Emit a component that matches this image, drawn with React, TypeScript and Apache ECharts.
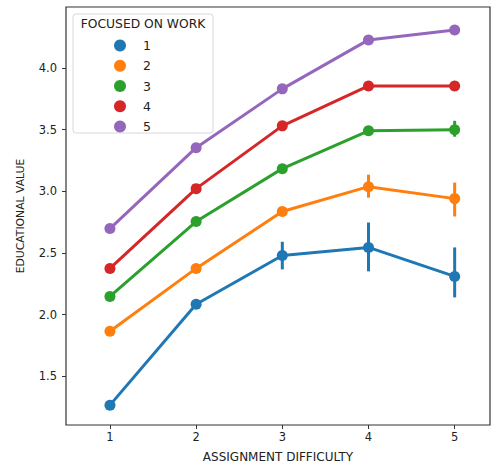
import React, { useEffect, useRef } from "react";
import * as echarts from "echarts";

const difficulty = [1, 2, 3, 4, 5];
const groups = ["1", "2", "3", "4", "5"];
const colors = ["#1f77b4", "#ff7f0e", "#2ca02c", "#d62728", "#9467bd"];

const means1 = [1.265, 2.083, 2.479, 2.544, 2.309];
const means2 = [1.864, 2.374, 2.835, 3.037, 2.94];
const means3 = [2.147, 2.754, 3.183, 3.49, 3.498];
const means4 = [2.374, 3.021, 3.53, 3.854, 3.854];
const means5 = [2.697, 3.353, 3.83, 4.227, 4.307];

const low1 = [1.245, 2.05, 2.366, 2.35, 2.139];
const high1 = [1.285, 2.115, 2.59, 2.746, 2.544];
const low2 = [1.85, 2.355, 2.81, 2.948, 2.795];
const high2 = [1.878, 2.393, 2.86, 3.134, 3.07];
const low3 = [2.133, 2.735, 3.165, 3.465, 3.442];
const high3 = [2.161, 2.773, 3.201, 3.515, 3.571];
const low4 = [2.36, 3.005, 3.512, 3.835, 3.83];
const high4 = [2.388, 3.037, 3.548, 3.873, 3.878];
const low5 = [2.683, 3.337, 3.812, 4.21, 4.29];
const high5 = [2.711, 3.369, 3.848, 4.244, 4.324];

const yTicks = [1.5, 2.0, 2.5, 3.0, 3.5, 4.0];

const means = [means1, means2, means3, means4, means5];
const lows = [low1, low2, low3, low4, low5];
const highs = [high1, high2, high3, high4, high5];

const FONT = "DejaVu Sans";

export default function App() {
  const ref = useRef<HTMLDivElement>(null);
  useEffect(() => {
    if (!ref.current) return;
    const chart = echarts.init(ref.current, null, { renderer: "svg" });
    const series: any[] = [];
    groups.forEach((g, i) => {
      series.push({
        type: "line",
        name: g,
        data: difficulty.map((d, j) => [d, means[i][j]]),
        symbol: "circle",
        symbolSize: 11,
        lineStyle: { width: 3, color: colors[i] },
        itemStyle: { color: colors[i] },
        z: 2 + i,
      });
      series.push({
        type: "custom",
        name: "err" + g,
        data: difficulty.map((d, j) => [d, lows[i][j], highs[i][j]]),
        renderItem: (params: any, api: any) => {
          const x = api.value(0);
          const a = api.coord([x, api.value(1)]);
          const b = api.coord([x, api.value(2)]);
          return {
            type: "line",
            shape: { x1: a[0], y1: a[1], x2: b[0], y2: b[1] },
            style: { stroke: colors[i], lineWidth: 3 },
          };
        },
        z: 2 + i,
      });
    });
    chart.setOption({
      animation: false,
      backgroundColor: "#ffffff",
      textStyle: { fontFamily: FONT },
      grid: {
        left: 66,
        top: 7,
        right: 4,
        bottom: 42,
        show: true,
        borderColor: "#333",
        borderWidth: 1.2,
        backgroundColor: "transparent",
      },
      legend: {
        data: groups,
        orient: "vertical",
        left: 114,
        top: 39,
        padding: 0,
        icon: "circle",
        itemWidth: 36,
        itemHeight: 12,
        itemGap: 7.25,
        selectedMode: false,
        z: 30,
        zlevel: 0,
        textStyle: { fontFamily: FONT, fontSize: 12.5, color: "#222", lineHeight: 12 },
      },
      graphic: [
        {
          type: "rect",
          shape: { x: 73, y: 14, width: 140, height: 119, r: 3 },
          style: { fill: "rgba(255,255,255,0.8)", stroke: "#d8d8d8", lineWidth: 1 },
          z: 1,
          silent: true,
        },
        {
          type: "text",
          x: 143,
          y: 24,
          style: {
            text: "FOCUSED ON WORK",
            fontFamily: FONT,
            fontSize: 12.3,
            fill: "#222",
            align: "center",
            verticalAlign: "middle",
          },
          z: 31,
        },
      ],
      xAxis: {
        type: "value",
        min: 0.49,
        max: 5.41,
        name: "ASSIGNMENT DIFFICULTY",
        nameLocation: "middle",
        nameGap: 26,
        nameTextStyle: { fontFamily: FONT, fontSize: 12, color: "#222" },
        axisLine: { show: false },
        axisTick: { show: true, length: 4, customValues: difficulty, lineStyle: { color: "#333" } },
        axisLabel: {
          customValues: difficulty,
          margin: 6,
          fontFamily: FONT,
          fontSize: 11.5,
          color: "#222",
        },
        splitLine: { show: false },
      },
      yAxis: {
        type: "value",
        min: 1.104,
        max: 4.494,
        name: "EDUCATIONAL VALUE",
        nameLocation: "middle",
        nameGap: 40,
        nameTextStyle: { fontFamily: FONT, fontSize: 10.8, color: "#222" },
        axisLine: { show: false },
        axisTick: { show: true, length: 4, customValues: yTicks, lineStyle: { color: "#333" } },
        axisLabel: {
          customValues: yTicks,
          margin: 9,
          fontFamily: FONT,
          fontSize: 11.5,
          color: "#222",
          formatter: (v: number) => v.toFixed(1),
        },
        splitLine: { show: false },
      },
      series,
    });
    return () => chart.dispose();
  }, []);
  return <div ref={ref} style={{ width: 494, height: 468, position: "absolute", left: 0, top: 0 }} />;
}
